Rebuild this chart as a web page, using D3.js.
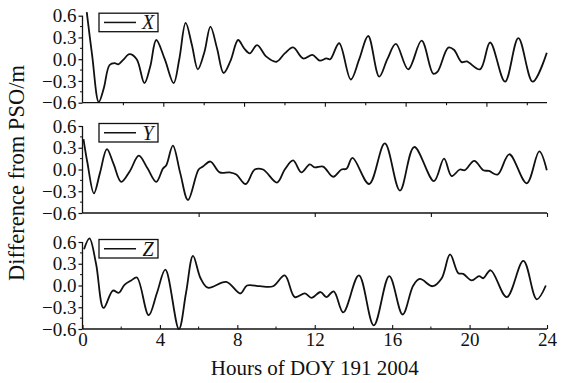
<!DOCTYPE html>
<html><head><meta charset="utf-8">
<script src="https://cdn.jsdelivr.net/npm/d3@7/dist/d3.min.js"></script>
<style>
body{margin:0;background:#fff;}
svg text{font-family:"Liberation Serif","Times New Roman",serif !important;fill:#111;}
</style></head>
<body><svg id="c" width="570" height="383"></svg>
<script>
// ---- data (hours, difference in m) ----
const seriesNames = ["X", "Y", "Z"];
const xHours = [0.22,0.5,0.84,1.1,1.4,1.66,1.85,2.1,2.43,2.8,3.2,3.5,3.81,4.25,4.71,5.0,5.33,5.65,5.96,6.3,6.61,6.95,7.29,7.65,8.04,8.35,8.64,9.02,9.5,10.02,10.45,10.88,11.4,11.88,12.26,12.6,12.8,13.26,13.86,14.3,14.76,15.33,15.75,16.19,16.83,17.52,18.12,18.35,18.9,19.19,19.59,19.85,20.54,21.06,21.83,22.52,23.26,23.99];
const xValues = [0.65,0.05,-0.59,-0.4,-0.08,-0.055,-0.07,-0.01,0.07,0.0,-0.33,-0.1,0.265,0.0,-0.33,0.0,0.5,0.2,-0.14,0.1,0.45,0.15,-0.19,-0.02,0.265,0.15,0.08,0.195,0.035,-0.035,0.08,0.164,0.01,0.06,-0.02,0.01,0.0,0.22,-0.28,0.0,0.32,-0.24,0.0,0.21,-0.14,0.255,-0.2,-0.17,0.16,0.13,-0.04,-0.03,-0.14,0.23,-0.31,0.29,-0.31,0.09];
const yHours = [0.05,0.25,0.59,0.9,1.26,1.6,2.0,2.45,2.91,3.35,3.81,4.16,4.33,4.67,5.05,5.45,6.0,6.22,6.61,7.09,7.6,7.95,8.43,8.9,9.33,10.05,10.45,10.88,11.31,11.74,12.0,12.43,12.95,13.38,13.64,13.95,14.81,15.62,16.4,17.14,18.16,18.68,19.07,19.5,19.75,20.24,20.71,21.0,21.45,22.05,22.95,23.6,23.99];
const yValues = [0.42,0.1,-0.33,-0.05,0.28,0.08,-0.17,-0.02,0.19,0.02,-0.17,0.015,0.06,0.33,-0.05,-0.42,0.0,0.04,0.11,-0.04,-0.04,-0.07,-0.2,0.0,0.0,-0.18,0.0,0.125,-0.04,0.07,0.03,0.04,-0.1,0.0,0.01,0.16,-0.2,0.36,-0.29,0.31,-0.16,0.15,-0.09,0.0,-0.01,0.12,-0.01,-0.02,-0.07,0.21,-0.19,0.25,-0.01];
const zHours = [0.08,0.36,0.7,1.09,1.57,1.88,2.17,2.52,2.81,3.42,3.85,4.28,4.98,5.35,5.71,6.1,6.48,7.43,8.16,8.5,9.16,9.85,10.45,10.97,11.49,11.83,12.3,12.6,12.98,13.47,14.28,15.05,15.85,16.54,17.09,17.43,18.09,18.56,18.99,19.42,19.67,20.11,20.49,20.7,21.09,21.92,22.78,23.47,23.94];
const zValues = [0.5,0.65,0.3,-0.31,-0.07,-0.1,0.01,0.07,0.11,-0.41,-0.1,0.22,-0.6,-0.1,0.41,0.1,-0.03,0.05,-0.11,0.0,-0.01,-0.01,0.14,-0.16,-0.11,-0.17,-0.09,-0.16,-0.08,-0.37,0.14,-0.55,0.13,-0.4,0.0,0.09,-0.01,0.1,0.43,0.17,0.16,0.07,0.13,0.1,0.21,-0.16,0.34,-0.19,0.0];
const yTickValues = [-0.6, -0.3, 0.0, 0.3, 0.6];
const yMinorTicks = [-0.45, -0.15, 0.15, 0.45];
const xTickValues = [0, 4, 8, 12, 16, 20, 24];
const xMinorTicks = [2, 6, 10, 14, 18, 22];
const topPanelTicks = [2, 4, 6, 8, 10, 12, 14, 16, 18, 20, 22];
const midPanelTicks = [6, 12, 18, 24];
const xTitle = "Hours of DOY 191 2004";
const yTitle = "Difference from PSO/m";

// ---- layout ----
const FONT = "'Liberation Serif', 'Times New Roman', serif";
const svg = d3.select("#c");
const left = 82.5, right = 547;
const panels = [
  {top: 15.7, bottom: 102.7, hours: xHours, vals: xValues, name: seriesNames[0]},
  {top: 126, bottom: 213, hours: yHours, vals: yValues, name: seriesNames[1]},
  {top: 242, bottom: 329, hours: zHours, vals: zValues, name: seriesNames[2]}
];
const x = d3.scaleLinear().domain([0, 24]).range([left, right]);
const xTop = d3.scaleLinear().domain([0, 23]).range([left, right]);

panels.forEach((p, i) => {
  const y = d3.scaleLinear().domain([-0.6, 0.6]).range([p.bottom, p.top]);
  const g = svg.append("g");
  // left axis
  const ya = d3.axisLeft(y).tickValues(yTickValues).tickSize(4).tickPadding(2)
    .tickFormat(d => d3.format(".1f")(d).replace("-", "\u2212"));
  const yg = g.append("g").attr("transform", `translate(${left},0)`).call(ya)
    .attr("font-family", FONT).attr("font-size", 19);
  yg.select(".domain").attr("stroke", "#111").attr("stroke-width", 1.3).attr("d", `M0,${p.top}V${p.bottom}`);
  yg.selectAll(".tick line").attr("stroke", "#111").attr("stroke-width", 1.2);
  yg.selectAll("text").attr("fill", "#111").attr("font-family", FONT);
  g.append("g").selectAll("line").data(yMinorTicks).join("line")
    .attr("x1", left - 2.5).attr("x2", left).attr("y1", d => y(d)).attr("y2", d => y(d))
    .attr("stroke", "#111").attr("stroke-width", 1);
  // bottom axis
  if (i === 0) {
    const xa = d3.axisBottom(xTop).tickValues(topPanelTicks).tickSize(3).tickFormat("");
    const xg = g.append("g").attr("transform", `translate(0,${p.bottom})`).call(xa);
    xg.select(".domain").attr("d", `M${left},0H${right}`).attr("stroke", "#111").attr("stroke-width", 1.3);
    xg.selectAll(".tick line").attr("stroke", "#111").attr("stroke-width", 1.1)
      .attr("y2", d => d % 4 === 0 ? 4 : 2.5);
  } else if (i === 1) {
    const xa = d3.axisBottom(x).tickValues(midPanelTicks).tickSize(4).tickFormat("");
    const xg = g.append("g").attr("transform", `translate(0,${p.bottom})`).call(xa);
    xg.select(".domain").attr("d", `M${left},0H${right}`).attr("stroke", "#111").attr("stroke-width", 1.3);
    xg.selectAll(".tick line").attr("stroke", "#111").attr("stroke-width", 1.1);
  } else {
    const xa = d3.axisBottom(x).tickValues(xTickValues).tickSize(0).tickPadding(5).tickFormat(d3.format("d"));
    const xg = g.append("g").attr("transform", `translate(0,${p.bottom})`).call(xa)
      .attr("font-family", FONT).attr("font-size", 19);
    xg.select(".domain").attr("d", `M${left},0H${right}`).attr("stroke", "#111").attr("stroke-width", 1.3);
    xg.selectAll(".tick line").attr("stroke", "#111").attr("stroke-width", 1.1).attr("y1", -4).attr("y2", 0);
    xg.selectAll("text").attr("fill", "#111").attr("dy", "0.62em").attr("font-family", FONT);
    g.append("g").selectAll("line").data(xMinorTicks).join("line")
      .attr("x1", d => x(d)).attr("x2", d => x(d)).attr("y1", p.bottom - 2.5).attr("y2", p.bottom)
      .attr("stroke", "#111").attr("stroke-width", 1);
  }
  // curve
  const pts = p.hours.map((h, k) => [h, p.vals[k]]);
  const line = d3.line().x(d => x(d[0])).y(d => y(d[1])).curve(d3.curveCatmullRom.alpha(0.5));
  g.append("path").datum(pts).attr("d", line).attr("fill", "none")
    .attr("stroke", "#111").attr("stroke-width", 1.8).attr("stroke-linejoin", "round");
  // legend
  const lg = g.append("g").attr("transform", `translate(99,${p.top - 2.5})`);
  lg.append("rect").attr("width", 59).attr("height", 18.5).attr("fill", "#fff")
    .attr("stroke", "#111").attr("stroke-width", 1.3);
  lg.append("line").attr("x1", 5).attr("x2", 37).attr("y1", 9.25).attr("y2", 9.25)
    .attr("stroke", "#111").attr("stroke-width", 1.5);
  lg.append("text").attr("x", 49).attr("y", 16).attr("text-anchor", "middle")
    .attr("font-family", FONT).attr("font-size", 20).attr("font-style", "italic").text(p.name);
});

svg.append("text").attr("x", (left + right) / 2).attr("y", 375).attr("text-anchor", "middle")
  .attr("font-family", FONT).attr("font-size", 21).text(xTitle);
svg.append("text").attr("transform", "translate(24,173) rotate(-90)").attr("text-anchor", "middle")
  .attr("font-family", FONT).attr("font-size", 22.5).text(yTitle);
</script></body></html>
